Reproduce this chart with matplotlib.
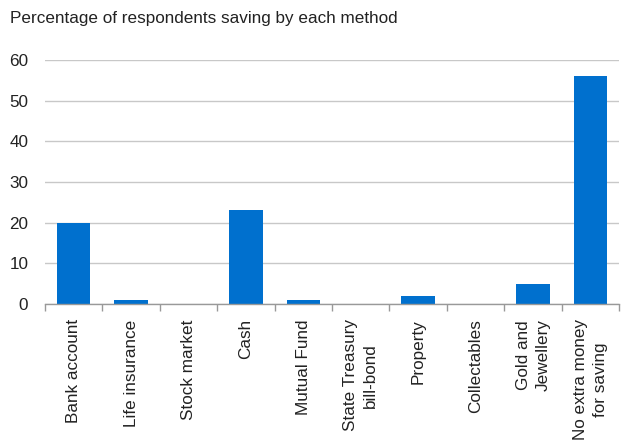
import matplotlib
matplotlib.use("Agg")
import matplotlib.pyplot as plt
import numpy as np

categories = ["Bank account", "Life insurance", "Stock market", "Cash", "Mutual Fund",
              "State Treasury\nbill-bond", "Property", "Collectables", "Gold and\nJewellery",
              "No extra money\nfor saving"]
values = [20, 1, 0, 23, 1, 0, 2, 0, 5, 56]
yticks = [0, 10, 20, 30, 40, 50, 60]
title = "Percentage of respondents saving by each method"

plt.rcParams['font.family'] = ['Liberation Sans', 'DejaVu Sans']
text_color = "#222222"

fig = plt.figure(figsize=(6.27, 4.41), dpi=100)
ax = fig.add_axes([45/627, 1-304/441, 574/627, 244/441])

x = np.arange(len(categories))
ax.bar(x, values, width=0.58, color="#0070CE", zorder=3)

ax.set_xlim(-0.5, len(categories) - 0.5)
ax.set_ylim(0, 60)
ax.set_yticks(yticks)
ax.set_yticklabels([str(v) for v in yticks], fontsize=12.3, color=text_color)
ax.yaxis.grid(True, color="#C8C8C8", linewidth=1.0, zorder=0)
ax.tick_params(axis='y', length=0, pad=12)

ax.set_xticks(x)
ax.set_xticklabels(categories, rotation=90, fontsize=12.3, color=text_color,
                   multialignment='center', linespacing=1.4)
ax.set_xticks(np.arange(-0.5, len(categories)), minor=True)
ax.tick_params(axis='x', which='major', length=0, pad=11)
ax.tick_params(axis='x', which='minor', length=5, color="#999999", width=1)

for s in ["left", "right", "top"]:
    ax.spines[s].set_visible(False)
ax.spines["bottom"].set_color("#999999")
ax.spines["bottom"].set_linewidth(1)
ax.spines["bottom"].set_zorder(4)

fig.text(10/627, 1-18/441, title, fontsize=12.3, color=text_color, va='center', ha='left')

fig.savefig("out.png", dpi=100)
